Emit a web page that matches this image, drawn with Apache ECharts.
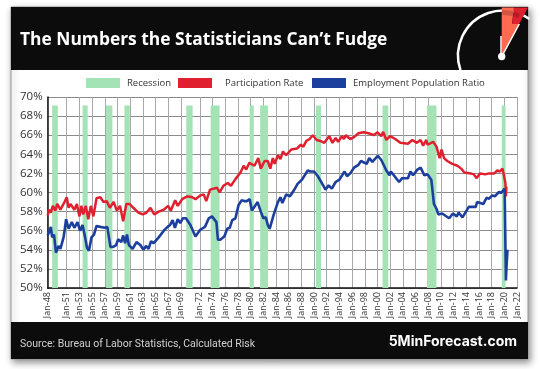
<!DOCTYPE html>
<html><head><meta charset="utf-8">
<style>html,body{margin:0;padding:0;background:#fff}#c{width:540px;height:369px}</style>
<script src="https://cdn.jsdelivr.net/npm/echarts@6/dist/echarts.min.js"></script>
</head><body><div id="c"></div>
<script>
const tickYears=[1948,1951,1953,1955,1957,1959,1961,1963,1965,1967,1969,1972,1974,1976,1978,1980,1982,1984,1986,1988,1990,1992,1994,1996,1998,2000,2002,2004,2006,2008,2010,2012,2014,2016,2018,2020,2022];
const recessionStart=[1948.7,1953.5,1957.2,1960.1,1969.85,1973.7,1979.85,1981.5,1990.3,2000.8,2007.8,2019.6];
const recessionEnd=[1949.6,1954.3,1958.2,1960.95,1970.85,1975.1,1980.5,1982.75,1991.1,2001.7,2009.3,2020.2];
const recessionTop=69.1;
const partYears=[1948,1948.2,1948.5,1948.8,1949.2,1949.5,1950,1950.5,1951,1951.3,1951.6,1952.2,1952.6,1953,1953.3,1953.6,1954,1954.4,1954.8,1955.2,1955.7,1956.3,1956.8,1957.3,1957.8,1958.4,1958.9,1959.4,1959.9,1960.4,1960.9,1961.5,1962.3,1963,1963.6,1964.2,1964.8,1965.5,1966.3,1967,1967.4,1968.1,1968.5,1969.2,1970,1970.8,1971.3,1972.1,1972.6,1973,1973.6,1974.7,1975.1,1975.7,1976.4,1976.9,1977.6,1978.4,1978.9,1979.3,1979.8,1980.6,1981.2,1981.6,1982.2,1982.7,1983.1,1983.5,1983.8,1984.3,1984.7,1985.1,1985.6,1986.4,1987.3,1987.9,1988.3,1988.8,1989.3,1989.8,1990.4,1991,1991.6,1992.4,1992.9,1993.4,1993.8,1994.4,1994.7,1995,1995.7,1996.3,1997,1997.8,1998.6,1999.4,2000,2000.6,2000.9,2001.4,2002,2002.8,2003.6,2004.8,2005.5,2006.2,2006.8,2007.2,2007.7,2007.9,2008.8,2009.3,2009.8,2010.1,2010.5,2011,2011.8,2012.6,2013.2,2013.7,2014.7,2015.2,2015.6,2016.2,2017,2017.6,2017.9,2018.4,2018.9,2019.3,2019.7,2019.85,2020.08,2020.17,2020.25,2020.33];
const partValues=[57.6,58.2,57.9,58.6,58.1,58.8,58.2,58.8,59.5,58.4,58.8,58.2,58.8,57.5,58.6,57.7,58.6,57.2,58.6,57.5,59.4,59.5,59,59.1,58.4,59,58.1,58.6,57,58.8,58.8,58.4,57.9,57.7,57.9,58.4,57.7,58,58.2,58.6,58.1,59.2,58.6,59.3,59.6,59.5,59.3,59.7,59.8,59.1,60.3,60.5,60,60.7,61,60.7,61.4,62.1,62.8,62.4,63.1,62.8,63.6,62.5,63.3,63.3,62.5,63.6,63,63.9,63.5,64.3,63.9,64.5,64.6,65,64.8,65.4,65.6,66,65.5,65.4,65.2,65.9,65.2,65.7,65.3,65.9,65.6,66,65.6,65.8,66.2,66.3,66.2,66,66.3,65.9,66.35,65.5,65.9,65.6,65.2,65.1,65.5,65.2,65.5,64.9,65.5,65,65.3,64.8,63.6,64.5,63.6,63.3,63,62.8,62.5,62.1,62,61.9,61.5,62,61.9,62,62.2,62,62.3,62.2,62.5,62.1,62.3,61,59.6,60.6];
const empYears=[1948,1948.5,1948.7,1949,1949.3,1949.7,1950,1950.5,1950.7,1950.9,1951.3,1951.8,1952.2,1952.7,1953.1,1953.5,1953.9,1954.2,1954.5,1954.9,1955.3,1955.7,1956.3,1956.6,1957,1957.4,1957.9,1958.3,1958.8,1959.1,1959.6,1959.9,1960.2,1960.5,1960.8,1961.4,1962,1962.6,1963.1,1963.5,1963.9,1964.3,1964.7,1965.5,1966.3,1966.9,1967.3,1967.7,1968.06,1968.5,1968.9,1969.3,1969.8,1970.5,1971.3,1972.05,1972.8,1973.4,1973.9,1974.6,1974.85,1975.2,1975.85,1976.3,1976.7,1977.1,1977.6,1978.1,1978.6,1979,1979.4,1979.85,1980.2,1980.5,1981.1,1981.6,1982,1982.4,1982.7,1983,1983.6,1984.3,1984.7,1985,1985.6,1986.2,1986.8,1987.4,1988.1,1989,1989.4,1990,1990.6,1991.3,1991.8,1992.3,1992.8,1993.4,1994,1994.8,1995.2,1995.7,1996.3,1997,1997.4,1998.3,1998.7,1999.2,2000.05,2000.6,2000.9,2001.4,2001.9,2002.1,2002.7,2003.4,2003.9,2004.8,2005.2,2005.6,2006.3,2006.8,2007.4,2007.9,2008.5,2008.9,2009.3,2009.6,2010.2,2011.3,2011.9,2012.5,2012.8,2013.4,2014.4,2015.5,2015.7,2016.7,2017.2,2017.6,2018.1,2018.5,2019.15,2019.5,2020.05,2020.17,2020.25,2020.33,2020.5];
const empValues=[55.5,56.4,55.3,55.6,53.7,54.4,54.1,55.3,56.2,57.2,56.2,56.9,56.3,56.9,56,56.6,55.3,54.2,53.9,55.3,55.6,56.5,56.4,56.2,56.3,56.4,54.3,54.3,54.5,55.1,54.8,55.5,54.7,55.6,54.5,54.1,54.8,54.5,54,54.4,54.1,54.9,54.7,55.3,56,56.4,56.6,57.1,56.3,57.2,56.8,57.3,57.3,56.6,55.4,56.1,56.4,57.3,57.5,56.9,55.05,55.05,55.4,56.2,56.3,57.1,57.3,58.7,59.2,59.1,59.1,59.3,58.1,58,59,58,57.3,57.4,56.6,56.2,57.6,59,59.5,58.9,59.8,59.6,60.2,60.9,61.35,62.3,62.2,62.2,61.7,60.9,60.3,60.75,60.4,61.1,61.35,62.2,61.7,62,62.6,62.9,63.3,63,63.6,63.2,63.85,63.4,63.6,62.3,61.8,62.2,61.7,61.1,61.5,61.5,62.2,61.8,62.4,62.6,61.8,61.9,61.3,58.8,58.3,57.7,57.8,57.3,57.8,57.5,57.9,57.4,58.5,58.5,59,58.8,59.45,59.35,59.7,59.6,60.05,59.95,60.4,60.3,50.8,52,54];

const font='"Open Sans"';
const zip=(a,b)=>a.map((v,i)=>[v,b[i]]);
const ch=echarts.init(document.getElementById('c'),null,{renderer:'canvas'});
const leg=(name,left)=>({show:true,data:[{name,icon:'rect'}],left,top:78,itemWidth:34,itemHeight:10,itemGap:0,selectedMode:false,padding:0,
  textStyle:{fontFamily:font,fontSize:9.5,color:'#333',padding:[0,0,0,name==='Participation Rate'?8:2]}});
ch.setOption({
 animation:false,backgroundColor:'#fff',
 legend:[leg('Recession',86),leg('Participation Rate',178),leg('Employment Population Ratio',312)],
 grid:{left:47.7,right:23,top:97,bottom:81},
 xAxis:{type:'value',min:1948,max:2022,
   axisLine:{show:true,onZero:false,lineStyle:{color:'#111',width:1.5}},
   axisTick:{show:false,customValues:tickYears},
   splitLine:{show:true,lineStyle:{color:'#a8a8a8',width:1}},
   axisLabel:{customValues:tickYears,rotate:90,fontFamily:font,fontSize:9,color:'#333',margin:4,showMinLabel:true,showMaxLabel:true,hideOverlap:false,
     formatter:v=>'Jan-'+String(Math.round(v)%100).padStart(2,'0')}},
 yAxis:{type:'value',min:50,max:70,interval:2,
   axisLine:{show:true,lineStyle:{color:'#111',width:1.5}},axisTick:{show:false},
   splitLine:{show:true,lineStyle:{color:'#8c8c8c',width:1}},
   axisLabel:{fontFamily:font,fontSize:11.5,color:'#333',margin:5,formatter:v=>v+'%'}},
 series:[
  {name:'Recession',type:'custom',z:2,clip:true,itemStyle:{color:'#a4e3b6'},
   data:recessionStart.map((s,i)=>[s,recessionEnd[i]]),
   encode:{x:[0,1],y:[]},
   renderItem:(p,api)=>{const a=api.coord([api.value(0),recessionTop]),b=api.coord([api.value(1),50]);
     return {type:'rect',shape:{x:a[0],y:a[1],width:b[0]-a[0],height:b[1]-a[1]},style:{fill:'#a4e3b6'}};}},
  {name:'Participation Rate',type:'line',z:3,symbol:'none',lineStyle:{color:'#e0202f',width:2.5},itemStyle:{color:'#e0202f'},data:zip(partYears,partValues)},
  {name:'Employment Population Ratio',type:'line',z:4,symbol:'none',lineStyle:{color:'#1c3f9e',width:2.6},itemStyle:{color:'#1c3f9e'},data:zip(empYears,empValues)}
 ],
 graphic:[
  {type:'rect',z:-10,shape:{x:11,y:7,width:517,height:352},style:{fill:'#fff',stroke:'#999',lineWidth:1,shadowBlur:7,shadowColor:'rgba(0,0,0,.45)',shadowOffsetX:2,shadowOffsetY:3}},
  {type:'rect',z:-9,shape:{x:11,y:7,width:517,height:63},style:{fill:'#0c0c0c'}},
  {type:'rect',z:-9,shape:{x:11,y:322,width:517,height:37},style:{fill:'#0c0c0c'}},
  {type:'text',z:5,x:20,y:40,style:{text:'The Numbers the Statisticians Can’t Fudge',fill:'#fff',font:'700 17.4px "Open Sans"',textVerticalAlign:'middle'}},
  {type:'text',z:5,x:20,y:344,style:{text:'Source: Bureau of Labor Statistics, Calculated Risk',fill:'#d0d0d0',font:'400 10.5px Roboto',textVerticalAlign:'middle'}},
  {type:'text',z:5,x:517,y:342,style:{text:'5MinForecast.com',fill:'#fff',font:'700 14px Inter',textAlign:'right',textVerticalAlign:'middle'}},
  {type:'arc',z:5,shape:{cx:503,cy:55.5,r:45,startAngle:2.81,endAngle:5.34,clockwise:true},style:{stroke:'#fff',lineWidth:2.5,fill:null}},
  {type:'polygon',z:6,shape:{points:[[501.7,7.5],[514,7.5],[512,24],[519.3,24],[503,54],[501.7,54]]},style:{fill:'#ff6a50'}},
  {type:'polygon',z:6,shape:{points:[[514,7.5],[528,7.5],[503,54],[519.3,24],[512,24]]},style:{fill:'#e0202f'}},
  {type:'arc',z:7,shape:{cx:503,cy:55.5,r:43,startAngle:4.69,endAngle:5.1,clockwise:true},style:{stroke:'rgba(0,0,0,.18)',lineWidth:5,fill:null}},
  {type:'line',z:8,shape:{x1:501,y1:36,x2:501,y2:56},style:{stroke:'#fff',lineWidth:1.5}},
  {type:'line',z:8,shape:{x1:501.7,y1:56.7,x2:519.3,y2:24},style:{stroke:'#fff',lineWidth:1.5}},
  {type:'circle',z:8,shape:{cx:501.7,cy:56.5,r:3.7},style:{fill:'#fff'}}
 ]
});
</script></body></html>
